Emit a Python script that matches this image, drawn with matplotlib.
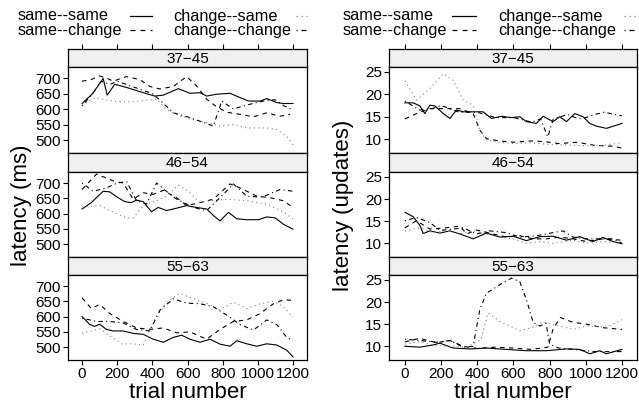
import matplotlib
matplotlib.use('Agg')
import matplotlib.pyplot as plt
from matplotlib.lines import Line2D

plt.rcParams['font.family'] = ['Liberation Sans', 'DejaVu Sans']

W, H = 639, 407

# series: (trial, latency) pairs
conditions = ['same--same', 'same--change', 'change--same', 'change--change']
age_groups = ['37\u221245', '46\u221254', '55\u221263']
x_ticks = [0, 200, 400, 600, 800, 1000, 1200]
ms_ticks = [500, 550, 600, 650, 700]
upd_ticks = [10, 15, 20, 25]

ms_3745_ss = [(0, 618), (60, 650), (120, 699), (143, 645), (186, 680), (253, 670), (348, 653), (414, 642),
              (462, 645), (548, 666), (614, 651), (671, 653), (709, 642), (766, 648), (842, 651), (899, 637),
              (947, 626), (1013, 626), (1051, 634), (1108, 621), (1146, 618), (1200, 618)]
ms_3745_sc = [(0, 690), (50, 695), (100, 707), (140, 700), (177, 690), (253, 705), (329, 695), (386, 673),
              (443, 665), (519, 673), (595, 705), (652, 675), (709, 632), (760, 610), (820, 590), (899, 583),
              (975, 575), (1051, 588), (1127, 577), (1184, 583)]
ms_3745_cs = [(0, 612), (72, 637), (120, 632), (180, 625), (253, 623), (329, 626), (424, 632), (481, 599),
              (557, 577), (671, 561), (785, 545), (861, 550), (937, 539), (1051, 539), (1108, 534),
              (1165, 512), (1200, 485)]
ms_3745_cc = [(0, 610), (60, 650), (110, 690), (160, 680), (200, 690), (300, 670), (400, 650), (450, 625),
              (519, 588), (600, 575), (700, 555), (747, 545), (795, 626), (861, 600), (930, 612), (1000, 622),
              (1050, 628), (1100, 630), (1150, 610), (1200, 598)]

ms_4654_ss = [(0, 615), (53, 636), (120, 673), (158, 671), (205, 652), (243, 639), (281, 636), (310, 644),
              (348, 639), (395, 606), (433, 620), (481, 610), (519, 615), (595, 626), (652, 620), (709, 615),
              (747, 594), (785, 576), (833, 604), (880, 583), (937, 580), (1004, 580), (1051, 589),
              (1099, 586), (1146, 565), (1200, 549)]
ms_4654_sc = [(0, 679), (82, 729), (139, 716), (186, 705), (234, 700), (291, 647), (348, 668), (405, 663),
              (462, 676), (538, 652), (595, 626), (671, 636), (747, 647), (842, 697), (899, 684), (994, 657),
              (1070, 652), (1146, 642), (1200, 620)]
ms_4654_cs = [(0, 622), (100, 626), (158, 610), (253, 586), (291, 586), (348, 626), (424, 642), (481, 657),
              (548, 693), (605, 673), (671, 636), (728, 642), (823, 647), (937, 642), (1051, 631),
              (1146, 605), (1200, 583)]
ms_4654_cc = [(0, 700), (63, 673), (139, 684), (200, 700), (253, 705), (310, 642), (367, 631), (424, 700),
              (500, 663), (538, 647), (633, 620), (709, 610), (785, 652), (861, 697), (937, 657), (1013, 654),
              (1051, 660), (1127, 679), (1200, 673)]

ms_5563_ss = [(0, 600), (44, 574), (72, 568), (100, 575), (139, 558), (177, 553), (234, 553), (291, 545),
              (348, 542), (405, 526), (462, 516), (519, 532), (567, 539), (614, 526), (671, 516), (728, 526),
              (785, 510), (842, 503), (880, 521), (937, 511), (994, 503), (1051, 511), (1108, 507),
              (1165, 490), (1200, 468)]
ms_5563_sc = [(0, 661), (53, 626), (100, 640), (158, 610), (234, 584), (310, 563), (386, 558), (462, 563),
              (538, 547), (614, 550), (709, 526), (785, 558), (861, 584), (937, 589), (1013, 610), (1089, 642),
              (1146, 655), (1200, 653)]
ms_5563_cs = [(0, 545), (100, 560), (158, 537), (224, 511), (291, 511), (348, 507), (405, 584), (481, 647),
              (557, 676), (633, 658), (709, 644), (785, 623), (861, 647), (937, 626), (1013, 642), (1089, 650),
              (1146, 632), (1200, 598)]
ms_5563_cc = [(0, 595), (82, 584), (158, 584), (234, 579), (310, 558), (386, 553), (443, 621), (519, 658),
              (595, 644), (671, 642), (747, 632), (823, 605), (899, 574), (975, 556), (1051, 589), (1108, 574),
              (1165, 532), (1200, 521)]

upd_3745_ss = [(0, 18.1), (46, 18.1), (83, 17.4), (110, 15.7), (138, 17.6), (166, 17.4), (212, 15.7),
               (249, 14.6), (285, 16.5), (322, 16.1), (377, 16.1), (432, 16.1), (479, 14.6), (534, 15.1),
               (589, 14.8), (635, 15.0), (672, 13.9), (727, 13.5), (764, 15.1), (819, 13.9), (856, 15.0),
               (893, 13.9), (939, 15.7), (985, 15.0), (1022, 13.5), (1058, 12.9), (1114, 12.4), (1200, 13.5)]
upd_3745_sc = [(0, 14.5), (64, 15.7), (138, 16.8), (230, 16.8), (304, 16.8), (377, 15.7), (414, 12.0),
               (451, 10.1), (520, 9.6), (600, 9.3), (700, 9.6), (780, 9.4), (850, 9.0), (950, 9.3),
               (1050, 8.6), (1150, 8.4), (1200, 8.0)]
upd_3745_cs = [(0, 23.0), (64, 18.7), (138, 21.3), (212, 24.6), (267, 23.1), (322, 18.7), (377, 17.6),
               (414, 12.0), (451, 9.8), (520, 9.3), (600, 9.0), (700, 9.2), (800, 8.8), (900, 8.7),
               (1000, 8.5), (1100, 8.6), (1200, 9.2)]
upd_3745_cc = [(0, 18.5), (80, 16.5), (150, 16.8), (200, 17.5), (300, 16.0), (400, 16.0), (500, 14.8),
               (600, 14.8), (700, 13.8), (750, 14.5), (790, 10.5), (820, 14.5), (900, 15.5), (960, 14.5),
               (1000, 14.8), (1050, 15.5), (1100, 16.0), (1200, 15.2)]

upd_4654_ss = [(0, 17.0), (46, 16.0), (83, 14.0), (101, 12.2), (138, 12.8), (193, 12.3), (249, 12.8),
               (304, 12.1), (377, 11.0), (451, 12.3), (525, 11.4), (598, 11.6), (672, 10.6), (746, 11.5),
               (819, 11.6), (893, 10.7), (966, 11.5), (1040, 10.4), (1095, 11.3), (1150, 10.4), (1200, 9.9)]
upd_4654_sc = [(0, 13.5), (64, 15.1), (138, 13.2), (230, 13.5), (304, 13.9), (341, 12.1), (396, 13.0),
               (488, 12.1), (561, 11.4), (635, 11.7), (709, 11.0), (782, 11.0), (856, 11.4), (929, 11.0),
               (1003, 10.4), (1095, 11.0), (1200, 10.7)]
upd_4654_cs = [(0, 12.8), (83, 13.5), (156, 12.4), (230, 12.8), (304, 12.1), (377, 12.8), (451, 12.1),
               (525, 11.4), (598, 11.0), (672, 10.0), (746, 10.4), (819, 10.0), (929, 10.7), (1003, 10.0),
               (1095, 10.4), (1200, 10.0)]
upd_4654_cc = [(0, 15.1), (64, 15.8), (138, 14.7), (193, 12.9), (267, 13.2), (322, 13.5), (396, 12.1),
               (469, 12.8), (561, 12.4), (635, 11.4), (727, 11.7), (819, 12.4), (874, 12.8), (929, 11.4),
               (1003, 11.0), (1095, 11.0), (1150, 11.0), (1200, 10.0)]

upd_5563_ss = [(0, 10.0), (83, 9.8), (156, 10.3), (193, 10.7), (267, 9.6), (359, 9.4), (451, 9.6),
               (561, 9.3), (672, 9.0), (782, 9.0), (893, 9.4), (966, 9.3), (1022, 8.3), (1077, 9.0),
               (1114, 8.3), (1200, 9.3)]
upd_5563_sc = [(0, 11.0), (80, 11.8), (175, 10.8), (250, 11.3), (322, 10.0), (400, 9.5), (500, 9.8),
               (600, 9.6), (700, 9.3), (790, 9.8), (820, 14.0), (860, 16.5), (929, 15.4), (1003, 15.0),
               (1095, 14.2), (1200, 13.8)]
upd_5563_cs = [(0, 10.5), (83, 11.0), (175, 10.1), (267, 10.0), (341, 9.8), (420, 11.5), (460, 17.5),
               (530, 15.5), (635, 13.5), (709, 14.3), (760, 15.5), (819, 15.0), (929, 13.8), (1003, 14.6),
               (1114, 14.3), (1200, 16.0)]
upd_5563_cc = [(0, 11.6), (83, 11.3), (175, 10.9), (249, 11.3), (322, 9.8), (377, 10.0), (414, 18.3),
               (451, 22.0), (525, 23.9), (589, 25.4), (635, 24.6), (672, 20.5), (709, 15.4), (746, 14.6),
               (780, 15.2), (800, 10.5), (850, 9.6), (950, 9.2), (1050, 8.8), (1200, 8.8)]

ms_panels = [[ms_3745_ss, ms_3745_sc, ms_3745_cs, ms_3745_cc],
             [ms_4654_ss, ms_4654_sc, ms_4654_cs, ms_4654_cc],
             [ms_5563_ss, ms_5563_sc, ms_5563_cs, ms_5563_cc]]
upd_panels = [[upd_3745_ss, upd_3745_sc, upd_3745_cs, upd_3745_cc],
              [upd_4654_ss, upd_4654_sc, upd_4654_cs, upd_4654_cc],
              [upd_5563_ss, upd_5563_sc, upd_5563_cs, upd_5563_cc]]

styles = [dict(color='black', ls='-'),
          dict(color='black', ls=(0, (4, 4))),
          dict(color='#808080', ls=(0, (1, 3))),
          dict(color='black', ls=(0, (1, 3, 4, 3)))]


def box(x0, y0, x1, y1):
    return [x0 / W, 1 - y1 / H, (x1 - x0) / W, (y1 - y0) / H]


fig = plt.figure(figsize=(W / 100, H / 100), dpi=100)

rows = [(49, 67, 153), (153, 172, 257), (257, 275, 360)]


def draw_legend(text_x, key_x, key_len):
    # two columns, text first then the line key, as in lattice keys
    row_y = [16, 30]
    for k, (label, stl) in enumerate(zip(conditions, styles)):
        col, row = divmod(k, 2)
        y = 1 - row_y[row] / H
        fig.text(text_x[col] / W, y, label, ha='left', va='center', fontsize=11.7)
        x0, x1 = key_x[col], key_x[col] + key_len[col]
        fig.add_artist(Line2D([x0 / W, x1 / W], [y, y], transform=fig.transFigure,
                              lw=0.9, **stl))


def draw_column(x0, x1, panels, ylim, yticks, ylabel, ylab_x, xlim):
    for i, (s0, p0, p1) in enumerate(rows):
        st = fig.add_axes(box(x0, s0, x1, p0))
        st.set_facecolor('#f0f0f0')
        st.set_xlim(xlim)
        st.set_yticks([])
        st.text(0.5, 0.45, age_groups[i], transform=st.transAxes, ha='center', va='center', fontsize=11)
        if i == 0:
            st.set_xticks(x_ticks)
            st.tick_params(axis='x', top=True, bottom=False, labeltop=False, labelbottom=False,
                           direction='out', length=3.5, width=0.8)
        else:
            st.set_xticks([])
        for sp in st.spines.values():
            sp.set_linewidth(0.9)

        ax = fig.add_axes(box(x0, p0, x1, p1))
        for series, stl in zip(panels[i], styles):
            xs, ys = zip(*series)
            ax.plot(xs, ys, lw=0.8, **stl)
        ax.set_xlim(xlim)
        ax.set_ylim(ylim)
        ax.set_yticks(yticks)
        ax.set_xticks(x_ticks)
        ax.tick_params(direction='out', length=3.5, width=0.8, labelsize=11, pad=1.5)
        if i < 2:
            ax.tick_params(axis='x', bottom=False, labelbottom=False)
        for sp in ax.spines.values():
            sp.set_linewidth(0.9)
        if i == 2:
            ax.set_xlabel('trial number', fontsize=16, labelpad=1)

    fig.text(ylab_x / W, 1 - 205 / H, ylabel, rotation=90, ha='center', va='center', fontsize=16)


draw_column(68, 307, ms_panels, (458, 736), ms_ticks, 'latency (ms)', 22, (-80, 1280))
draw_column(389, 637, upd_panels, (6.9, 26.1), upd_ticks, 'latency (updates)', 343, (-88, 1283))

draw_legend([18, 173], [130, 296], [22, 11])
draw_legend([343, 498], [452, 624], [24, 12])

fig.savefig('out.png', dpi=100)
